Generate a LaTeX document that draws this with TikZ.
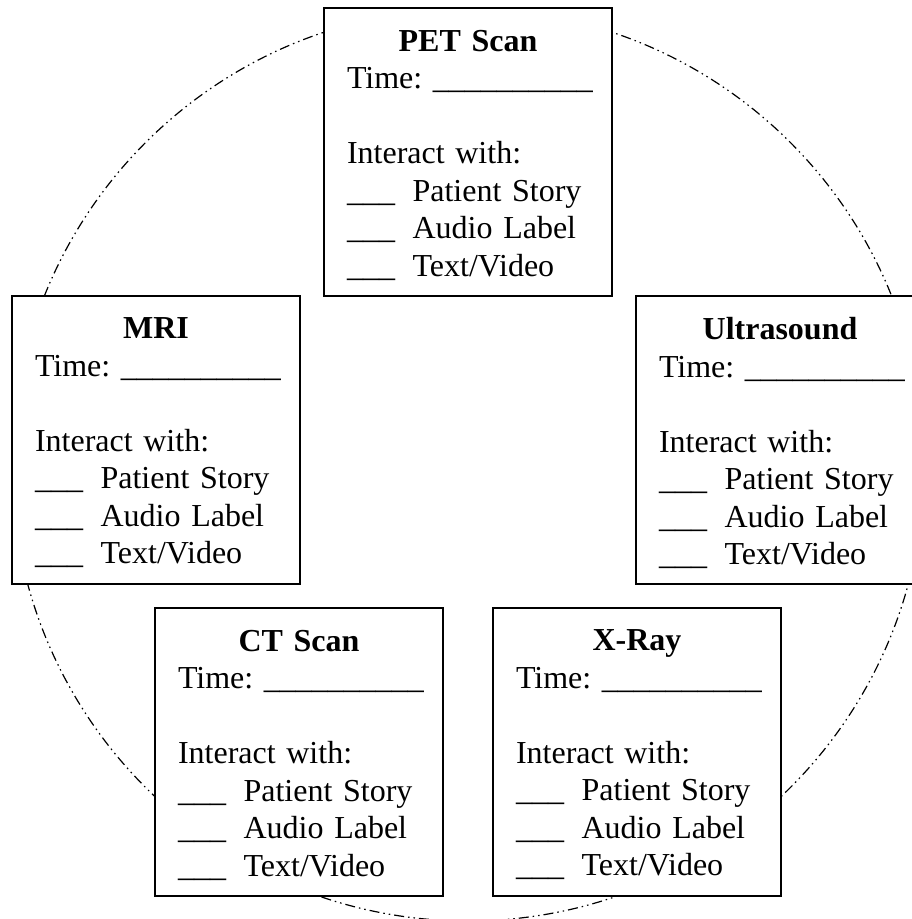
\documentclass[tikz,border=0pt]{standalone}
\usepackage{fontspec}
\setmainfont{Liberation Serif}
\usetikzlibrary{calc}
\tikzset{
  stationbox/.style={draw=black, line width=2pt, fill=white, minimum width=288pt, minimum height=288pt,
    inner sep=0pt},
  stationlabel/.style={inner sep=0pt, text width=242pt, align=left, font=\fontsize{32}{37.5}\selectfont},
  ring/.style={draw=black, line width=1.2pt, dash pattern=on 10pt off 4pt on 1.5pt off 4pt on 1.5pt off 4pt}
}
\newcommand{\stationtext}[1]{%
  \hbox to 242pt{\hfil\textbf{#1}\hfil}\par
  \mbox{Time:~\_\_\_\_\_\_\_\_\_\_}\par
  \mbox{}\par
  \mbox{Interact with:}\par
  \mbox{\_\_\_\hspace{0.55em}Patient Story}\par
  \mbox{\_\_\_\hspace{0.55em}Audio Label}\par
  \mbox{\_\_\_\hspace{0.55em}Text/Video}}
\begin{document}
\begin{tikzpicture}[x=1pt,y=-1pt]
\useasboundingbox (0,0) rectangle (911,919);
\coordinate (c) at (468,465);
\draw[ring] (c) circle[radius=456pt];
\node[stationbox] (pet) at (468,152) {};
\node[stationbox] (mri) at (156,440) {};
\node[stationbox] (us) at (780,440) {};
\node[stationbox] (ct) at (299,752) {};
\node[stationbox] (xray) at (637,752) {};
\node[stationlabel] (petlabel) at ($(pet.center)+(0,3)$) {\stationtext{PET Scan}};
\node[stationlabel] (mrilabel) at ($(mri.center)+(0,3)$) {\stationtext{MRI}};
\node[stationlabel] (uslabel) at ($(us.center)+(0,3)$) {\stationtext{Ultrasound}};
\node[stationlabel] (ctlabel) at ($(ct.center)+(0,3)$) {\stationtext{CT Scan}};
\node[stationlabel] (xraylabel) at ($(xray.center)+(0,3)$) {\stationtext{X-Ray}};
\end{tikzpicture}
\end{document}
